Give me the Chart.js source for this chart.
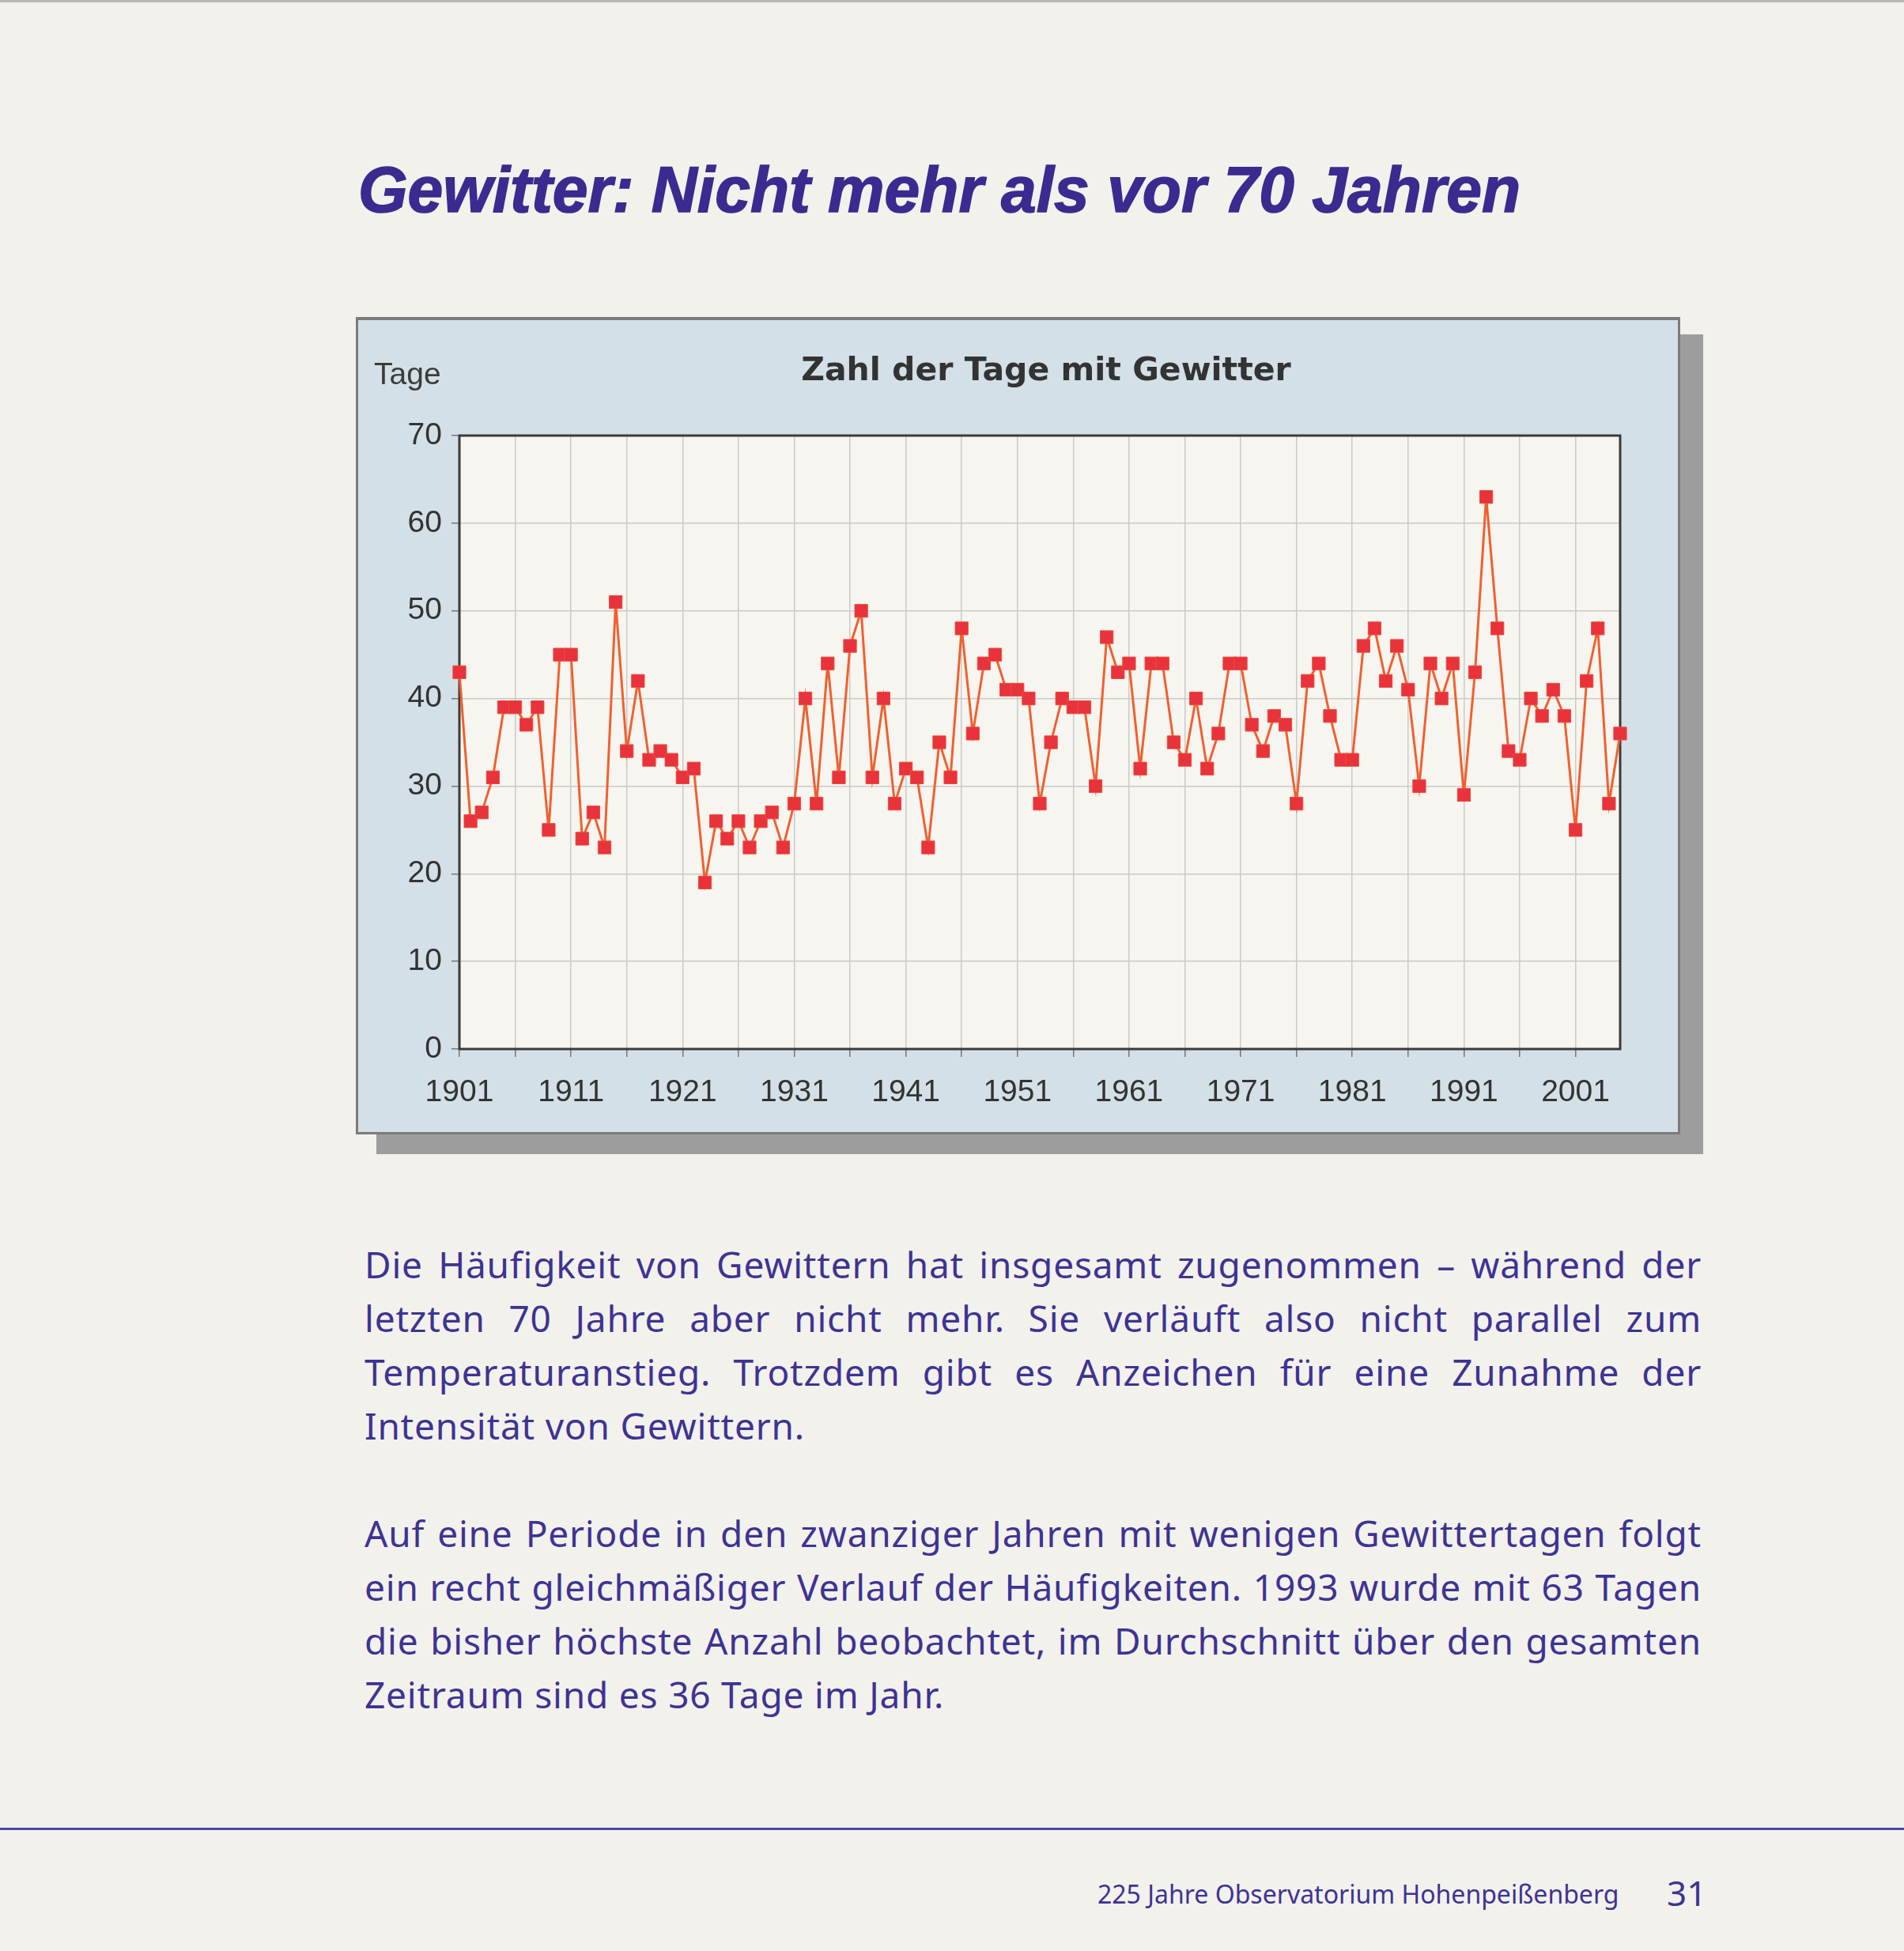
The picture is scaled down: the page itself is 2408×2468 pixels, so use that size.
<!DOCTYPE html>
<html lang="de">
<head>
<meta charset="UTF-8">
<title>Gewitter: Nicht mehr als vor 70 Jahren</title>
<script src="https://cdn.jsdelivr.net/npm/chart.js"></script>
<style>
  body { margin: 0; width: 2408px; height: 2468px; background: #f3f1ec; position: relative; overflow: hidden; font-family: "Noto Sans", sans-serif; }
  .topedge { position: absolute; left: 0; top: 0; width: 2408px; height: 3px; background: #b9b7b2; }
  #titel { position: absolute; left: 453px; top: 190px; font-family: "Liberation Sans", sans-serif; font-weight: bold; font-style: italic; font-size: 82px; line-height: 100px; color: #3b2a8f; white-space: nowrap; transform-origin: left center; -webkit-text-stroke: 1.5px #3b2a8f; }
  .schatten { position: absolute; left: 476px; top: 423px; width: 1678px; height: 1037px; background: #9d9d9d; }
  .panel { position: absolute; left: 450px; top: 401px; width: 1675px; height: 1034px; box-sizing: border-box; background: #d4e0e7; border: 3px solid #7b7b7b; border-top-width: 4px; }
  #grafik { position: absolute; left: 450px; top: 401px; }
  .tage { position: absolute; left: 473px; top: 451px; font-family: "Liberation Sans", sans-serif; font-size: 39px; color: #3c3c3c; }
  .charttitel { position: absolute; left: 450px; top: 443px; text-align: center; font-family: "DejaVu Sans", sans-serif; font-weight: bold; font-size: 41px; color: #333; }
  .text { position: absolute; left: 461px; width: 1691px; font-size: 46px; line-height: 68px; letter-spacing: 0.8px; color: #3d3393; }
  .text div { text-align: justify; text-align-last: justify; white-space: nowrap; }
  .text div.letzte { text-align-last: left; }
  .linie { position: absolute; left: 0; top: 2312px; width: 2408px; height: 3px; background: #4d48a8; }
  .fuss { position: absolute; left: 1388px; top: 2374px; font-size: 32px; color: #3d3393; }
  .seite { position: absolute; left: 2108px; top: 2364px; font-size: 44px; color: #3d3393; }
</style>
</head>
<body>
  <div class="topedge"></div>
  <div id="titel">Gewitter: Nicht mehr als vor 70 Jahren</div>

  <div class="schatten"></div>
  <div class="panel"></div>
  <canvas id="grafik" width="1675" height="1034"></canvas>
  <div class="tage">Tage</div>
  <div class="charttitel" style="width:1746px">Zahl der Tage mit Gewitter</div>

  <div class="text" style="top:1565px">
    <div>Die Häufigkeit von Gewittern hat insgesamt zugenommen – während der</div>
    <div>letzten 70 Jahre aber nicht mehr. Sie verläuft also nicht parallel zum</div>
    <div>Temperaturanstieg. Trotzdem gibt es Anzeichen für eine Zunahme der</div>
    <div class="letzte">Intensität von Gewittern.</div>
  </div>
  <div class="text" style="top:1905px">
    <div>Auf eine Periode in den zwanziger Jahren mit wenigen Gewittertagen folgt</div>
    <div>ein recht gleichmäßiger Verlauf der Häufigkeiten. 1993 wurde mit 63 Tagen</div>
    <div>die bisher höchste Anzahl beobachtet, im Durchschnitt über den gesamten</div>
    <div class="letzte">Zeitraum sind es 36 Tage im Jahr.</div>
  </div>

  <div class="linie"></div>
  <div class="fuss">225 Jahre Observatorium Hohenpeißenberg</div>
  <div class="seite">31</div>

<script>
  // Jahre 1901 bis 2005
  const jahre = [];
  for (let j = 1901; j <= 2005; j++) jahre.push(j);

  // Zahl der Tage mit Gewitter
  const tage = [
    43, 26, 27, 31, 39, 39, 37, 39, 25, 45,   // 1901-1910
    45, 24, 27, 23, 51, 34, 42, 33, 34, 33,   // 1911-1920
    31, 32, 19, 26, 24, 26, 23, 26, 27, 23,   // 1921-1930
    28, 40, 28, 44, 31, 46, 50, 31, 40, 28,   // 1931-1940
    32, 31, 23, 35, 31, 48, 36, 44, 45, 41,   // 1941-1950
    41, 40, 28, 35, 40, 39, 39, 30, 47, 43,   // 1951-1960
    44, 32, 44, 44, 35, 33, 40, 32, 36, 44,   // 1961-1970
    44, 37, 34, 38, 37, 28, 42, 44, 38, 33,   // 1971-1980
    33, 46, 48, 42, 46, 41, 30, 44, 40, 44,   // 1981-1990
    29, 43, 63, 48, 34, 33, 40, 38, 41, 38,   // 1991-2000
    25, 42, 48, 28, 36                        // 2001-2005
  ];

  // Gitterlinien alle 5 Jahre, Beschriftung alle 10 Jahre
  const gitterJahre = [];
  for (let j = 1901; j <= 2001; j += 5) gitterJahre.push(j);
  const yTicks = [0, 10, 20, 30, 40, 50, 60, 70];

  // Titel auf die Breite im Original bringen
  const titel = document.getElementById('titel');
  const breite = titel.getBoundingClientRect().width;
  titel.style.transform = 'scaleX(' + (1470 / breite) + ')';

  const plotFlaeche = {
    id: 'plotFlaeche',
    beforeDraw(chart) {
      const { ctx, chartArea: a } = chart;
      ctx.save();
      ctx.fillStyle = '#f7f5f0';
      ctx.fillRect(a.left, a.top, a.width, a.height);
      ctx.restore();
    },
    beforeDatasetsDraw(chart) {
      const { ctx, chartArea: a } = chart;
      ctx.save();
      ctx.strokeStyle = '#3a3a3a';
      ctx.lineWidth = 3;
      ctx.strokeRect(a.left, a.top, a.width, a.height);
      ctx.restore();
    }
  };

  const punkte = jahre.map((j, i) => ({ x: j, y: tage[i] }));

  new Chart(document.getElementById('grafik').getContext('2d'), {
    type: 'line',
    data: {
      datasets: [{
        label: 'Tage mit Gewitter',
        data: punkte,
        borderColor: '#f1602e',
        borderWidth: 3,
        pointStyle: 'rect',
        pointRadius: 11.5,
        pointBackgroundColor: '#e8323c',
        pointBorderColor: '#ef4c3a',
        pointBorderWidth: 1,
        tension: 0,
        clip: false
      }]
    },
    options: {
      responsive: false,
      animation: false,
      devicePixelRatio: 1,
      layout: { padding: { left: 0, top: 150, right: 76, bottom: 0 } },
      plugins: { legend: { display: false }, tooltip: { enabled: false }, title: { display: false } },
      scales: {
        x: {
          type: 'linear',
          min: 1901,
          max: 2005,
          afterBuildTicks: (s) => { s.ticks = gitterJahre.map(v => ({ value: v })); },
          afterFit: (s) => { s.height = 108; },
          ticks: {
            autoSkip: false,
            maxRotation: 0,
            padding: 22,
            color: '#333',
            font: { family: 'Liberation Sans', size: 39 },
            callback: (v) => ((v - 1901) % 10 === 0 ? String(v) : '')
          },
          grid: { color: '#cacaca', lineWidth: 1.5, tickLength: 10, tickColor: '#777' },
          border: { display: false }
        },
        y: {
          min: 0,
          max: 70,
          afterBuildTicks: (s) => { s.ticks = yTicks.map(v => ({ value: v })); },
          afterFit: (s) => { s.width = 131; },
          ticks: {
            padding: 12,
            color: '#333',
            font: { family: 'Liberation Sans', size: 39 }
          },
          grid: { color: '#cacaca', lineWidth: 1.5, tickLength: 10, tickColor: '#777' },
          border: { display: false }
        }
      }
    },
    plugins: [plotFlaeche]
  });
</script>
</body>
</html>
